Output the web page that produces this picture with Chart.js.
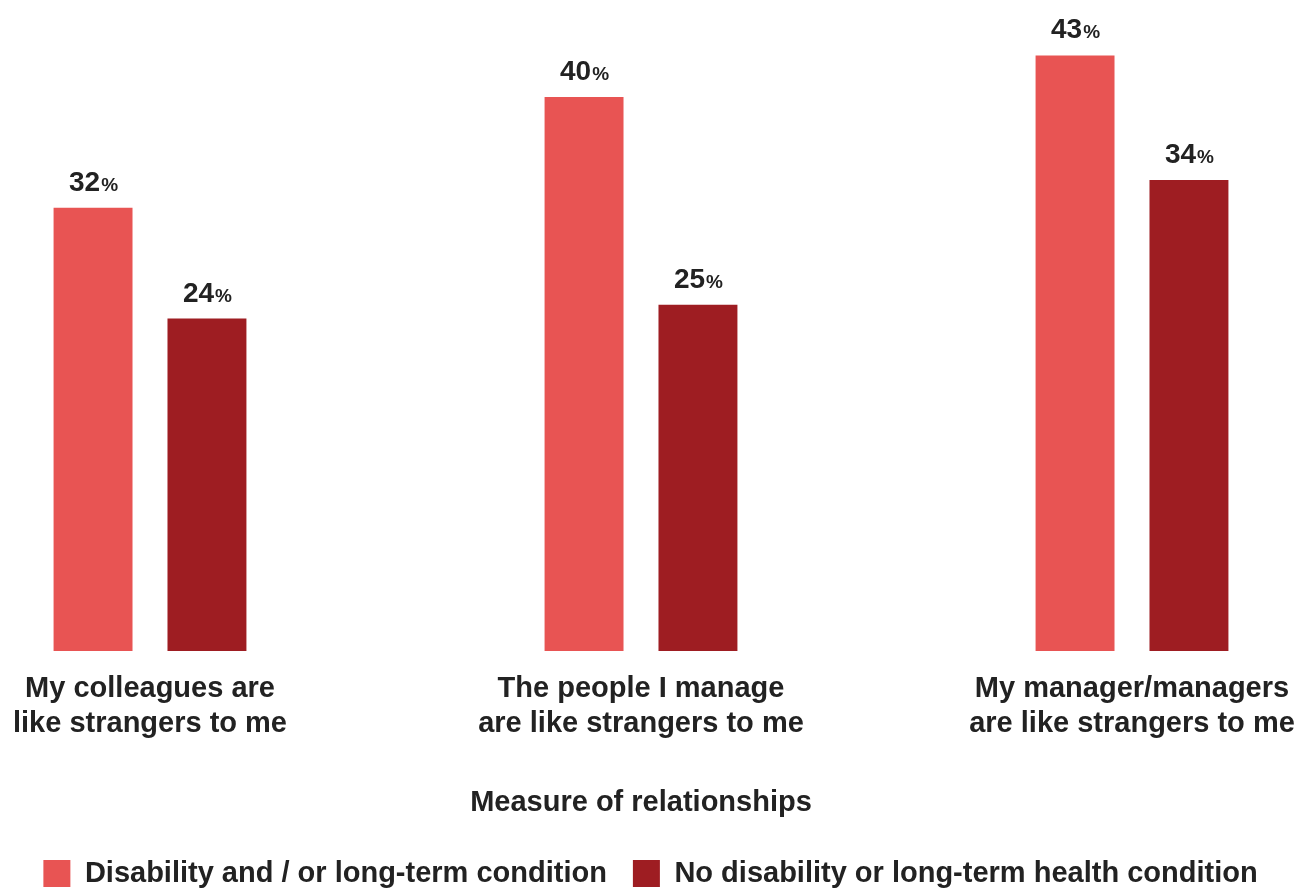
<!DOCTYPE html>
<html>
<head>
<meta charset="utf-8">
<script src="https://cdn.jsdelivr.net/npm/chart.js@4.4.0/dist/chart.umd.min.js"></script>
<style>
  html, body { margin: 0; padding: 0; background: #ffffff; overflow: hidden; }
  #wrap { width: 1301px; height: 888px; }
</style>
</head>
<body>
<div id="wrap"><canvas id="chart" width="1301" height="888"></canvas></div>
<script>
const categories = [
  ["My colleagues are", "like strangers to me"],
  ["The people I manage", "are like strangers to me"],
  ["My manager/managers", "are like strangers to me"],
];
const seriesNames = [
  "Disability and / or long-term condition",
  "No disability or long-term health condition",
];
const disabilityValues = [32, 40, 43];
const noDisabilityValues = [24, 25, 34];
const axisTitle = "Measure of relationships";

const fontFamily = "'Liberation Sans', Arial, Helvetica, sans-serif";
const textColor = "#222222";

//Plugin that writes the value above each bar, with a smaller % sign
const valueLabels = {
  id: "valueLabels",
  afterDatasetsDraw(chart) {
    const ctx = chart.ctx;
    ctx.save();
    ctx.fillStyle = textColor;
    ctx.textBaseline = "alphabetic";
    ctx.textAlign = "left";
    chart.data.datasets.forEach((ds, di) => {
      const meta = chart.getDatasetMeta(di);
      meta.data.forEach((bar, i) => {
        const num = String(ds.data[i]);
        ctx.font = "bold 28px " + fontFamily;
        const w1 = ctx.measureText(num).width;
        ctx.font = "bold 19px " + fontFamily;
        const w2 = ctx.measureText("%").width;
        const x0 = bar.x - (w1 + w2) / 2;
        const y0 = bar.y - 17;
        ctx.font = "bold 28px " + fontFamily;
        ctx.fillText(num, x0, y0);
        ctx.font = "bold 19px " + fontFamily;
        ctx.fillText("%", x0 + w1 + 1, y0);
      });
    });
    ctx.restore();
  },
};

const myChart = new Chart(document.getElementById("chart"), {
  type: "bar",
  plugins: [valueLabels],
  data: {
    labels: categories,
    datasets: [
      {
        label: seriesNames[0],
        data: disabilityValues,
        backgroundColor: "#E85453",
        categoryPercentage: 0.464,
        barPercentage: 0.693,
        clip: false,
      },
      {
        label: seriesNames[1],
        data: noDisabilityValues,
        backgroundColor: "#9E1D22",
        categoryPercentage: 0.464,
        barPercentage: 0.693,
        clip: false,
      },
    ],
  },
  options: {
    responsive: false,
    animation: false,
    layout: {
      padding: { left: 0, right: 0, top: 0, bottom: -10 },
    },
    plugins: {
      tooltip: { enabled: false },
      legend: {
        position: "bottom",
        labels: {
          boxWidth: 27,
          boxHeight: 27,
          padding: 26,
          color: textColor,
          font: { family: fontFamily, size: 29, weight: "bold" },
        },
      },
    },
    scales: {
      x: {
        offset: false,
        grid: { display: false, drawTicks: false },
        border: { display: false },
        //keep the first and last groups away from the edges
        afterFit(scale) {
          scale.paddingLeft = 150;
          scale.paddingRight = 169;
        },
        ticks: {
          padding: 21,
          maxRotation: 0,
          autoSkip: false,
          color: textColor,
          font: { family: fontFamily, size: 29, weight: "bold", lineHeight: 1.2 },
        },
        title: {
          display: true,
          text: axisTitle,
          color: textColor,
          padding: { top: 23, bottom: 12.6 },
          font: { family: fontFamily, size: 29, weight: "bold", lineHeight: 1.2 },
        },
      },
      y: {
        display: false,
        min: 0,
        max: 47,
      },
    },
  },
});
</script>
</body>
</html>
